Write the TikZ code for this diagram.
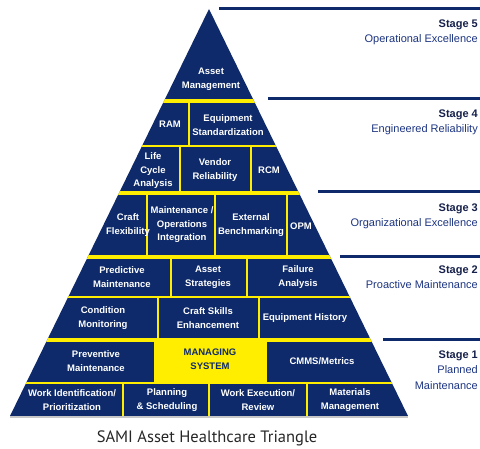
\documentclass[tikz,border=0pt]{standalone}
\usepackage{fontspec}
\setmainfont{Liberation Sans}
\newfontfamily\captionfont{PT Sans}
\definecolor{pyramidnavy}{RGB}{14,42,106}
\definecolor{pyramidyellow}{RGB}{255,238,0}
\definecolor{stageink}{RGB}{22,32,74}
\definecolor{labelink}{RGB}{28,52,128}

\begin{document}
\begin{tikzpicture}[x=1pt,y=-1pt]
    \tikzset{Cell/.style={%
            text=white,%
            font=\fontsize{9.5}{13.5}\selectfont\bfseries,%
            align=center,%
            inner sep=0pt,%
        },
        Rule/.style={draw=pyramidyellow, line width=3.4pt},
        Split/.style={draw=pyramidyellow, line width=1.2pt},
        StageLine/.style={draw=pyramidnavy, line width=3pt},
        Stage/.style={%
            anchor=north east,%
            align=right,%
            inner sep=0pt,%
            font=\fontsize{11}{15.5}\selectfont,%
            text=labelink,%
        }}

    \useasboundingbox (0,0) rectangle (480,449);

    \coordinate (apex) at (209,9);
    \coordinate (left) at (10,416);
    \coordinate (right) at (408,416);

    \fill[black!22] (10,416) rectangle (408,418.5);
    \fill[pyramidnavy] (apex) -- (right) -- (left) -- cycle;

    \begin{scope}
        \clip (apex) -- (right) -- (left) -- cycle;
        \fill[pyramidyellow] (154,340) rectangle (267,383);

        \draw[Rule] (0,101) -- (420,101);
        \draw[Rule] (0,193) -- (420,193);
        \draw[Rule] (0,257) -- (420,257);
        \draw[Rule] (0,340) -- (420,340);
        \draw[Split] (0,146) -- (420,146);
        \draw[Split] (0,297) -- (420,297);
        \draw[Split] (0,383) -- (420,383);

        \draw[Split] (189,101) -- (189,146);
        \draw[Split] (180,146) -- (180,193);
        \draw[Split] (251,146) -- (251,193);
        \draw[Split] (147,193) -- (147,257);
        \draw[Split] (215,193) -- (215,257);
        \draw[Split] (287,193) -- (287,257);
        \draw[Split] (171,257) -- (171,297);
        \draw[Split] (247,257) -- (247,297);
        \draw[Split] (158,297) -- (158,340);
        \draw[Split] (259,297) -- (259,340);
        \draw[Split] (123,383) -- (123,416);
        \draw[Split] (209,383) -- (209,416);
        \draw[Split] (307,383) -- (307,416);
    \end{scope}

    \node[Cell] (am) at (211,79) {Asset\\Management};
    \node[Cell] (ram) at (170,124) {RAM};
    \node[Cell] (es) at (228,125) {Equipment\\Standardization};
    \node[Cell] (lca) at (153,171) {Life\\Cycle\\Analysis};
    \node[Cell] (vr) at (215,170) {Vendor\\Reliability};
    \node[Cell] (rcm) at (269,170) {RCM};
    \node[Cell] (cf) at (128,225) {Craft\\Flexibility};
    \node[Cell] (moi) at (182,225) {Maintenance /\\Operations\\Integration};
    \node[Cell] (eb) at (251,225) {External\\Benchmarking};
    \node[Cell] (opm) at (301,226) {OPM};
    \node[Cell] (pdm) at (122,277) {Predictive\\Maintenance};
    \node[Cell] (as) at (208,277) {Asset\\Strategies};
    \node[Cell] (fa) at (298,277) {Failure\\Analysis};
    \node[Cell] (cm) at (103,318) {Condition\\Monitoring};
    \node[Cell] (cse) at (208,318) {Craft Skills\\Enhancement};
    \node[Cell] (eh) at (305,318) {Equipment History};
    \node[Cell] (pm) at (96,361) {Preventive\\Maintenance};
    \node[Cell, text=pyramidnavy] (ms) at (210,359) {MANAGING\\SYSTEM};
    \node[Cell] (cmms) at (322,361) {CMMS/Metrics};
    \node[Cell] (wip) at (72,400) {Work Identification/\\Prioritization};
    \node[Cell] (ps) at (167,400) {Planning\\\& Scheduling};
    \node[Cell] (wer) at (258,400) {Work Execution/\\Review};
    \node[Cell] (mm) at (350,400) {Materials\\Management};

    \draw[StageLine] (219,9) -- (480,9);
    \draw[StageLine] (268,99) -- (480,99);
    \draw[StageLine] (318,192) -- (480,192);
    \draw[StageLine] (340,257) -- (480,257);
    \draw[StageLine] (383,340) -- (480,340);

    \node[Stage] (s5) at (478,19.5) {\textcolor{stageink}{\bfseries Stage 5}\\Operational Excellence};
    \node[Stage] (s4) at (478,109.5) {\textcolor{stageink}{\bfseries Stage 4}\\Engineered Reliability};
    \node[Stage] (s3) at (478,203.5) {\textcolor{stageink}{\bfseries Stage 3}\\Organizational Excellence};
    \node[Stage] (s2) at (478,265.5) {\textcolor{stageink}{\bfseries Stage 2}\\Proactive Maintenance};
    \node[Stage] (s1) at (478,350.5) {\textcolor{stageink}{\bfseries Stage 1}\\Planned\\Maintenance};

    \node[font=\captionfont\fontsize{16.5}{19}\selectfont, text=black!85] (title) at (207,438) {SAMI Asset Healthcare Triangle};
\end{tikzpicture}
\end{document}
